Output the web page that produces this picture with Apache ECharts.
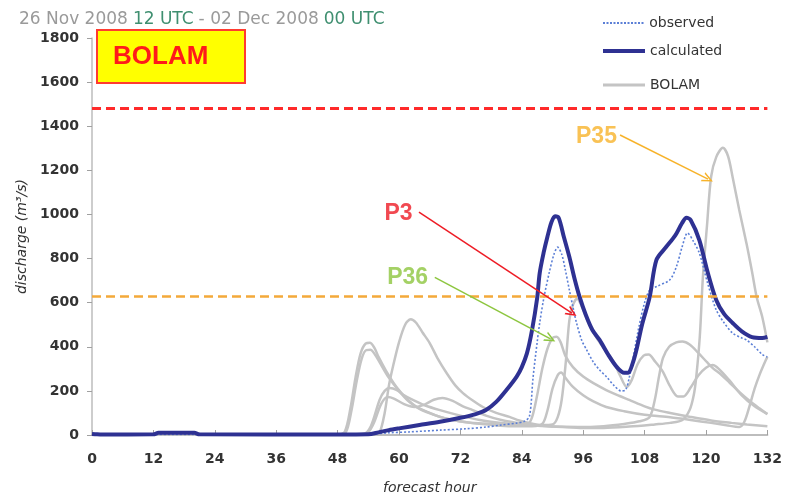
<!DOCTYPE html>
<html>
<head>
<meta charset="utf-8">
<script src="https://cdn.jsdelivr.net/npm/echarts@6/dist/echarts.min.js"></script>
<style>
  html, body { margin: 0; padding: 0; background: #ffffff; }
  #main { width: 785px; height: 501px; }
</style>
</head>
<body>
<div id="main"></div>
<script>
// Forecast hours on the x axis, discharge (m3/s) on the y axis.
const hourTicks = { min: 0, max: 132, interval: 12 };
const dischargeTicks = { min: 0, max: 1800, interval: 200 };

// Alert thresholds (m3/s)
const thresholdHigh = 1480;
const thresholdLow = 630;

// Observed discharge [hour, m3/s]
const observed = [[0,3],[48,3],[55,5],[58,10],[62,14],[68,22],[73,28],[77,36],[80,45],[83,54],[84.5,62],
  [85.5,85],[86.2,260],[87,420],[87.5,508],[88.3,620],[89.4,740],[90.3,820],[91,852],[91.8,820],[92.5,750],
  [93.3,657],[94,580],[94.7,508],[95.7,430],[96.7,385],[98,330],[99.2,295],[100.6,263],[102,225],[103.4,200],
  [104.3,205],[105,260],[105.7,340],[106.8,480],[108,600],[109,657],[110.5,675],[112.9,703],[114.2,762],
  [115.3,850],[116.4,916],[117.5,880],[118.7,825],[120.3,690],[122,567],[123.5,510],[125.2,462],[127,440],
  [127.9,431],[129.5,400],[131,365],[132,354]];

// Calculated discharge [hour, m3/s]
const calculated = [[0,5],[1,3],[2,2],[12,3],[13,10],[20,10],[21,3],[48,2],[54,3],[56,12],[58,22],[60,30],
  [64,45],[68,60],[72,78],[75,95],[77,113],[79,150],[81,204],[83,265],[84,308],[85,370],[86,476],[87,620],
  [87.5,734],[88.3,830],[89,898],[89.8,965],[90.5,992],[91.2,985],[92.2,900],[93.3,807],[94.3,710],[95.3,626],
  [96.5,545],[97.8,476],[99.2,431],[101,360],[102.5,310],[104,282],[104.8,282],[105.6,320],[106.4,385],
  [107.5,500],[109,626],[110.3,793],[112.2,852],[114,905],[115.3,960],[116.2,985],[117,975],[118.7,884],
  [120.3,740],[122,612],[123.5,550],[125.2,508],[127,470],[129,444],[131,440],[132,445]];

// BOLAM-driven runs [hour, m3/s]
const bolamRun1 = [[0,3],[48,3],[49.4,15],[50.5,120],[51.5,260],[52.5,370],[53.5,415],[54.3,418],[55.2,395],
  [56,354],[57.5,290],[59.5,218],[61.5,165],[63.5,127],[66,100],[68,82],[71,66],[74,56],[78,50],[82,46],
  [85,48],[86,80],[87,180],[88,300],[89,390],[90,440],[90.8,445],[91.6,420],[92.5,360],[94,308],[96,265],
  [98,235],[100.5,204],[103,178],[105,159],[108,130],[110,115],[113,100],[117,82],[121,66],[125,55],[128,48],[132,40]];

const bolamRun2 = [[0,3],[48,3],[49.6,12],[50.7,110],[51.7,240],[52.7,345],[53.6,385],[54.4,386],[55.3,365],
  [56.2,330],[58,260],[60,200],[62,150],[64,118],[67,90],[70,70],[74,55],[78,46],[82,40],[86,40],[88,50],
  [89,110],[90,210],[91,270],[91.7,283],[92.5,260],[94,218],[96,180],[98,152],[100.5,127],[104,108],[108,92],
  [113,80],[117,68],[121,55],[124,44],[126.5,36],[127.5,60],[128.5,130],[129.5,210],[130.5,275],[131.5,330],[132,354]];

const bolamRun3 = [[0,3],[48,3],[55,4],[56.2,12],[57.2,100],[58,220],[58.8,308],[60,420],[61.2,500],[62.3,525],
  [63.3,510],[64.6,465],[66,417],[67.6,345],[69.3,281],[71,225],[72.5,190],[74.5,155],[76.4,127],[79,100],
  [81.6,82],[83.5,66],[85.5,54],[88,45],[90,48],[91,80],[91.8,160],[92.6,330],[93.3,521],[94,590],[94.8,618],
  [95.6,590],[97,510],[98.5,445],[100,394],[101,365],[102,330],[103.2,270],[104.5,218],[105.5,250],[106.6,320],
  [107.8,360],[108.8,365],[110,335],[111.5,290],[113,220],[114.5,175],[115.6,175],[117,215],[118.5,270],
  [120,305],[121.3,317],[122.5,300],[124.5,250],[127,180],[129.5,130],[132,95]];

const bolamRun4 = [[0,3],[48,3],[53,5],[54.5,40],[56.2,159],[57.2,200],[58.2,213],[59.5,205],[61,180],
  [62.7,159],[65,135],[68,113],[72,88],[75.8,68],[80,55],[85,45],[90,38],[95,36],[100,40],[104,50],[107,62],
  [109,82],[110,160],[110.8,263],[111.6,350],[112.8,400],[114.2,420],[115.4,424],[116.8,410],[118.5,372],
  [120.2,330],[121.5,300],[122.6,281],[124.5,240],[126.5,195],[128.5,155],[130.5,120],[132,95]];

const bolamRun5 = [[0,3],[48,3],[53.5,5],[55,50],[56.5,140],[57.8,172],[59,165],[61,140],[63,127],[65,138],
  [66.8,160],[68.5,168],[70.5,155],[72.5,130],[74.4,113],[77,88],[80,68],[84,52],[88,42],[92,36],[96,32],
  [100,32],[105,38],[110,48],[113,55],[115.4,68],[116.8,113],[117.6,180],[118.1,264],[118.8,450],[119.4,718],
  [120.2,950],[121,1171],[122,1260],[123.3,1302],[124.3,1265],[125.2,1170],[126.5,1020],[127.9,870],[129,740],
  [129.9,626],[131,535],[132,420]];

// Run callouts: label text, label position, arrow start and end [hour, m3/s]
const calloutNames = ['P3', 'P36', 'P35'];
const calloutColors = ['#ee1c25', '#8dc63f', '#f7b32b'];
const calloutLabelAt = [[59.9, 1002], [61.7, 712], [98.6, 1351]];
const calloutArrowFrom = [[63.9, 1011], [67.0, 715], [103.2, 1360]];
const calloutArrowTo = [[93.8, 553], [89.6, 436], [120.4, 1160]];

const bolamRuns = [bolamRun1, bolamRun2, bolamRun3, bolamRun4, bolamRun5];

const FONT = '"DejaVu Sans", sans-serif';
const chevron = 'path://M5,0 L10,10 L8.4,10 L5,3.2 L1.6,10 L0,10 Z';

// Legend swatch for the dotted observed line: a row of short dashes
let dotPath = 'path://';
for (let x = 0; x < 42; x += 3.5) {
  dotPath += 'M' + x + ',0h2v2h-2z ';
}

const series = [];

bolamRuns.forEach(function (run) {
  series.push({
    name: 'BOLAM',
    type: 'line',
    data: run,
    showSymbol: false,
    symbol: 'none',
    smooth: 0.3,
    lineStyle: { color: '#c4c4c4', width: 2.5 },
    itemStyle: { color: '#c4c4c4' },
    z: 2
  });
});

series.push({
  name: 'thresholds',
  type: 'line',
  data: [],
  silent: true,
  markLine: {
    silent: true,
    symbol: ['none', 'none'],
    label: { show: false },
    animation: false,
    data: [
      { yAxis: thresholdHigh, lineStyle: { color: '#ff2a2a', width: 3, type: [9, 5] } },
      { yAxis: thresholdLow, lineStyle: { color: '#f4a93a', width: 2.5, type: [9, 5] } }
    ]
  },
  z: 1
});

series.push({
  name: 'observed',
  type: 'line',
  data: observed,
  showSymbol: false,
  symbol: 'none',
  smooth: 0.3,
  lineStyle: { color: '#5b7fd6', width: 1.6, type: [2, 2] },
  itemStyle: { color: '#5b7fd6' },
  z: 3
});

series.push({
  name: 'calculated',
  type: 'line',
  data: calculated,
  showSymbol: false,
  symbol: 'none',
  smooth: 0.3,
  lineStyle: { color: '#2e3192', width: 4 },
  itemStyle: { color: '#2e3192' },
  z: 4
});

series.push({
  name: 'callouts',
  type: 'scatter',
  symbolSize: 0,
  silent: true,
  data: calloutNames.map(function (n, i) {
    return {
      name: n,
      value: calloutLabelAt[i],
      label: { color: calloutColors[i] }
    };
  }),
  label: {
    show: true,
    position: 'inside',
    formatter: '{b}',
    fontFamily: '"Liberation Sans", sans-serif',
    fontWeight: 'bold',
    fontSize: 23
  },
  markLine: {
    silent: true,
    symbol: ['none', chevron],
    symbolSize: [10, 11],
    label: { show: false },
    animation: false,
    data: calloutNames.map(function (n, i) {
      return [
        { coord: calloutArrowFrom[i], lineStyle: { color: calloutColors[i], width: 1.5, type: 'solid' }, itemStyle: { color: calloutColors[i] } },
        { coord: calloutArrowTo[i] }
      ];
    })
  },
  z: 5
});

const legendCommon = {
  orient: 'vertical',
  left: 598,
  itemWidth: 42,
  itemGap: 5,
  selectedMode: false,
  textStyle: { fontFamily: FONT, fontSize: 14, color: '#333' }
};

const option = {
  animation: false,
  backgroundColor: '#ffffff',
  title: {
    left: 14,
    top: 6,
    text: '{d|26 Nov 2008} {u|12 UTC} {d|- 02 Dec 2008} {u|00 UTC}',
    textStyle: {
      fontWeight: 'normal',
      rich: {
        d: { fontFamily: FONT, fontSize: 17, fontWeight: 'normal', color: '#9a9a9a' },
        u: { fontFamily: FONT, fontSize: 17, fontWeight: 'normal', color: '#3f8f70' }
      }
    }
  },
  legend: [
    Object.assign({}, legendCommon, { top: 11, itemHeight: 2, data: [{ name: 'observed', icon: dotPath }] }),
    Object.assign({}, legendCommon, { top: 39, itemHeight: 4, data: [{ name: 'calculated', icon: 'rect' }] }),
    Object.assign({}, legendCommon, { top: 73, itemHeight: 3, data: [{ name: 'BOLAM', icon: 'rect' }] })
  ],
  grid: { left: 92, right: 17, top: 38, bottom: 66, containLabel: false },
  xAxis: {
    type: 'value',
    min: hourTicks.min,
    max: hourTicks.max,
    interval: hourTicks.interval,
    name: 'forecast hour',
    nameLocation: 'middle',
    nameGap: 46,
    nameTextStyle: { fontFamily: FONT, fontSize: 14, fontStyle: 'italic', color: '#333' },
    axisLine: { show: true, lineStyle: { color: '#bdbdbd', width: 2 } },
    axisTick: { show: true, inside: true, length: 5, lineStyle: { color: '#a0a0a0' } },
    axisLabel: { fontFamily: FONT, fontWeight: 'bold', fontSize: 14, color: '#333', margin: 17 },
    splitLine: { show: false }
  },
  yAxis: {
    type: 'value',
    min: dischargeTicks.min,
    max: dischargeTicks.max,
    interval: dischargeTicks.interval,
    name: 'discharge (m³/s)',
    nameLocation: 'middle',
    nameGap: 62,
    nameTextStyle: { fontFamily: FONT, fontSize: 14, fontStyle: 'italic', color: '#333' },
    axisLine: { show: true, lineStyle: { color: '#bdbdbd', width: 1.5 } },
    axisTick: { show: true, inside: false, length: 5, lineStyle: { color: '#a0a0a0' } },
    axisLabel: {
      fontFamily: FONT, fontWeight: 'bold', fontSize: 14, color: '#333', margin: 13,
      formatter: function (v) { return String(v); }
    },
    splitLine: { show: false }
  },
  graphic: [
    {
      type: 'rect',
      shape: { x: 97, y: 30, width: 148, height: 53 },
      style: { fill: '#ffff00', stroke: '#ff3b30', lineWidth: 2 },
      z: 10
    },
    {
      type: 'text',
      x: 113,
      y: 57,
      style: {
        text: 'BOLAM',
        fill: '#ff1a1a',
        font: 'bold 26px "Liberation Sans", sans-serif',
        verticalAlign: 'middle'
      },
      z: 11
    }
  ],
  series: series
};

const chart = echarts.init(document.getElementById('main'));
chart.setOption(option);
</script>
</body>
</html>
